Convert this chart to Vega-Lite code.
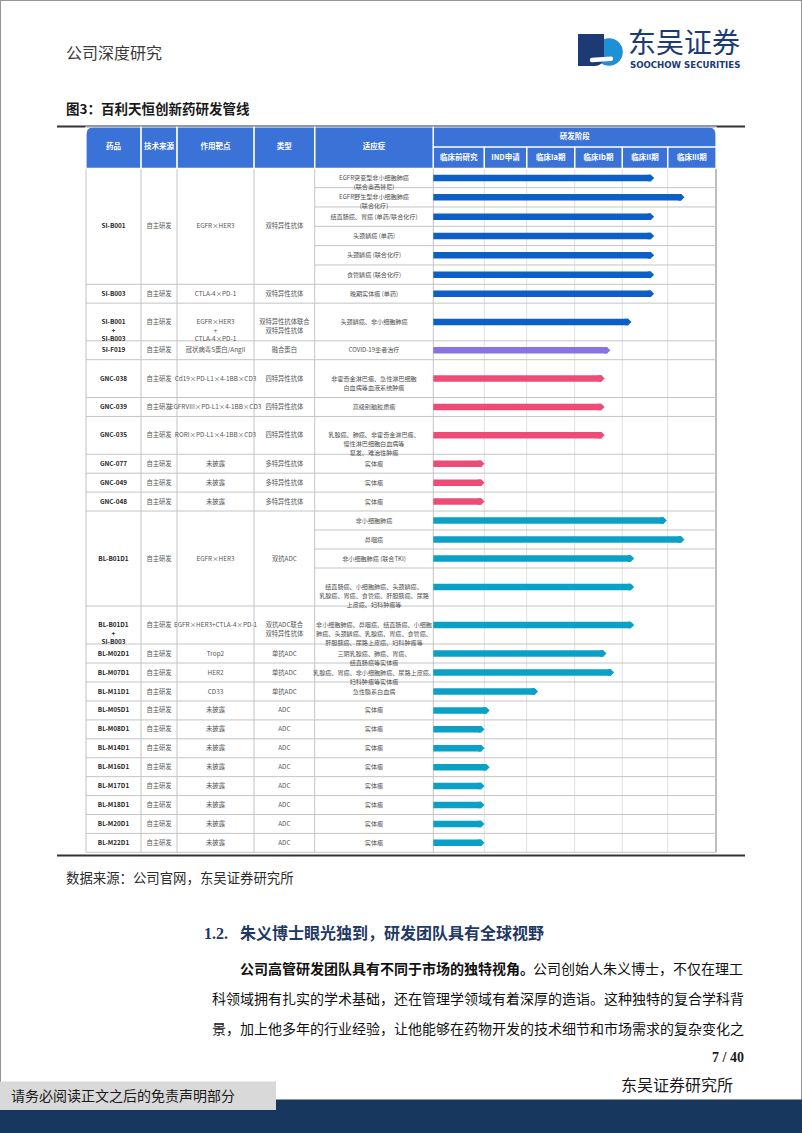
{
  "$schema": "https://vega.github.io/schema/vega-lite/v6.json",
  "width": 802,
  "height": 1133,
  "autosize": {"type": "fit", "contains": "padding"},
  "padding": 0,
  "background": "white",
  "config": {"view": {"stroke": "#959595", "strokeWidth": 2}, "font": "Noto Sans CJK SC", "bar": {"continuousBandSize": 6.5}},
  "datasets": {
    "cols": [
      {"col": "name", "cx": -4.5},
      {"col": "src", "cx": -3.5},
      {"col": "target", "cx": -2.5},
      {"col": "type", "cx": -1.5},
      {"col": "ind", "cx": -0.5}
    ],
    "hdr": [
      {"label": "药品", "c0": -5, "c1": -4, "r0": -2, "r1": 0},
      {"label": "技术来源", "c0": -4, "c1": -3, "r0": -2, "r1": 0},
      {"label": "作用靶点", "c0": -3, "c1": -2, "r0": -2, "r1": 0},
      {"label": "类型", "c0": -2, "c1": -1, "r0": -2, "r1": 0},
      {"label": "适应症", "c0": -1, "c1": 0, "r0": -2, "r1": 0},
      {"label": "研发阶段", "c0": 0, "c1": 6, "r0": -2, "r1": -1},
      {"label": "临床前研究", "c0": 0, "c1": 1, "r0": -1, "r1": 0},
      {"label": "IND申请", "c0": 1, "c1": 2, "r0": -1, "r1": 0},
      {"label": "临床Ia期", "c0": 2, "c1": 3, "r0": -1, "r1": 0},
      {"label": "临床Ib期", "c0": 3, "c1": 4, "r0": -1, "r1": 0},
      {"label": "临床II期", "c0": 4, "c1": 5, "r0": -1, "r1": 0},
      {"label": "临床III期", "c0": 5, "c1": 6, "r0": -1, "r1": 0}
    ],
    "drugs": [
      {"name": "SI-B001", "src": "自主研发", "target": "EGFR×HER3", "type": "双特异性抗体", "r0": 0, "r1": 6},
      {"name": "SI-B003", "src": "自主研发", "target": "CTLA-4×PD-1", "type": "双特异性抗体", "r0": 6, "r1": 7},
      {"name": "SI-B001\n+\nSI-B003", "src": "自主研发", "target": "EGFR×HER3\n+\nCTLA-4×PD-1", "type": "双特异性抗体联合\n双特异性抗体", "r0": 7, "r1": 9},
      {"name": "SI-F019", "src": "自主研发", "target": "冠状病毒S蛋白/AngII", "type": "融合蛋白", "r0": 9, "r1": 10},
      {"name": "GNC-038", "src": "自主研发", "target": "Cd19×PD-L1×4-1BB×CD3", "type": "四特异性抗体", "r0": 10, "r1": 12},
      {"name": "GNC-039", "src": "自主研发", "target": "EGFRVIII×PD-L1×4-1BB×CD3", "type": "四特异性抗体", "r0": 12, "r1": 13},
      {"name": "GNC-035", "src": "自主研发", "target": "RORI×PD-L1×4-1BB×CD3", "type": "四特异性抗体", "r0": 13, "r1": 15},
      {"name": "GNC-077", "src": "自主研发", "target": "未披露", "type": "多特异性抗体", "r0": 15, "r1": 16},
      {"name": "GNC-049", "src": "自主研发", "target": "未披露", "type": "多特异性抗体", "r0": 16, "r1": 17},
      {"name": "GNC-048", "src": "自主研发", "target": "未披露", "type": "多特异性抗体", "r0": 17, "r1": 18},
      {"name": "BL-B01D1", "src": "自主研发", "target": "EGFR×HER3", "type": "双抗ADC", "r0": 18, "r1": 23},
      {"name": "BL-B01D1\n+\nSI-B003", "src": "自主研发", "target": "EGFR×HER3+CTLA-4×PD-1", "type": "双抗ADC联合\n双特异性抗体", "r0": 23, "r1": 25},
      {"name": "BL-M02D1", "src": "自主研发", "target": "Trop2", "type": "单抗ADC", "r0": 25, "r1": 26},
      {"name": "BL-M07D1", "src": "自主研发", "target": "HER2", "type": "单抗ADC", "r0": 26, "r1": 27},
      {"name": "BL-M11D1", "src": "自主研发", "target": "CD33", "type": "单抗ADC", "r0": 27, "r1": 28},
      {"name": "BL-M05D1", "src": "自主研发", "target": "未披露", "type": "ADC", "r0": 28, "r1": 29},
      {"name": "BL-M08D1", "src": "自主研发", "target": "未披露", "type": "ADC", "r0": 29, "r1": 30},
      {"name": "BL-M14D1", "src": "自主研发", "target": "未披露", "type": "ADC", "r0": 30, "r1": 31},
      {"name": "BL-M16D1", "src": "自主研发", "target": "未披露", "type": "ADC", "r0": 31, "r1": 32},
      {"name": "BL-M17D1", "src": "自主研发", "target": "未披露", "type": "ADC", "r0": 32, "r1": 33},
      {"name": "BL-M18D1", "src": "自主研发", "target": "未披露", "type": "ADC", "r0": 33, "r1": 34},
      {"name": "BL-M20D1", "src": "自主研发", "target": "未披露", "type": "ADC", "r0": 34, "r1": 35},
      {"name": "BL-M22D1", "src": "自主研发", "target": "未披露", "type": "ADC", "r0": 35, "r1": 36}
    ],
    "ind": [
      {"drug": "SI-B001", "ind": "EGFR突变型非小细胞肺癌\n(联合奥西替尼)", "r0": 0, "r1": 1, "prog": 4.63, "grp": "SI"},
      {"drug": "SI-B001", "ind": "EGFR野生型非小细胞肺癌\n(联合化疗)", "r0": 1, "r1": 2, "prog": 5.28, "grp": "SI"},
      {"drug": "SI-B001", "ind": "结直肠癌、胃癌 (单药/联合化疗)", "r0": 2, "r1": 3, "prog": 4.63, "grp": "SI"},
      {"drug": "SI-B001", "ind": "头颈鳞癌 (单药)", "r0": 3, "r1": 4, "prog": 4.63, "grp": "SI"},
      {"drug": "SI-B001", "ind": "头颈鳞癌 (联合化疗)", "r0": 4, "r1": 5, "prog": 4.63, "grp": "SI"},
      {"drug": "SI-B001", "ind": "食管鳞癌 (联合化疗)", "r0": 5, "r1": 6, "prog": 4.63, "grp": "SI"},
      {"drug": "SI-B003", "ind": "晚期实体瘤 (单药)", "r0": 6, "r1": 7, "prog": 4.63, "grp": "SI"},
      {"drug": "SI-B001+SI-B003", "ind": "头颈鳞癌、非小细胞肺癌", "r0": 7, "r1": 9, "prog": 4.13, "grp": "SI"},
      {"drug": "SI-F019", "ind": "COVID-19患者治疗", "r0": 9, "r1": 10, "prog": 3.68, "grp": "SF"},
      {"drug": "GNC-038", "ind": "非霍奇金淋巴瘤、急性淋巴细胞\n白血病等血液系统肿瘤", "r0": 10, "r1": 12, "prog": 3.56, "grp": "GNC"},
      {"drug": "GNC-039", "ind": "高级别脑胶质瘤", "r0": 12, "r1": 13, "prog": 3.56, "grp": "GNC"},
      {"drug": "GNC-035", "ind": "乳腺癌、肺癌、非霍奇金淋巴瘤、\n慢性淋巴细胞白血病等\n复发、难治性肿瘤", "r0": 13, "r1": 15, "prog": 3.56, "grp": "GNC"},
      {"drug": "GNC-077", "ind": "实体瘤", "r0": 15, "r1": 16, "prog": 0.94, "grp": "GNC"},
      {"drug": "GNC-049", "ind": "实体瘤", "r0": 16, "r1": 17, "prog": 0.94, "grp": "GNC"},
      {"drug": "GNC-048", "ind": "实体瘤", "r0": 17, "r1": 18, "prog": 0.94, "grp": "GNC"},
      {"drug": "BL-B01D1", "ind": "非小细胞肺癌", "r0": 18, "r1": 19, "prog": 4.91, "grp": "BL"},
      {"drug": "BL-B01D1", "ind": "鼻咽癌", "r0": 19, "r1": 20, "prog": 5.28, "grp": "BL"},
      {"drug": "BL-B01D1", "ind": "非小细胞肺癌 (联合TKI)", "r0": 20, "r1": 21, "prog": 4.19, "grp": "BL"},
      {"drug": "BL-B01D1", "ind": "结直肠癌、小细胞肺癌、头颈鳞癌、\n乳腺癌、胃癌、食管癌、肝胆胰癌、尿路\n上皮癌、妇科肿瘤等", "r0": 21, "r1": 23, "prog": 4.19, "grp": "BL"},
      {"drug": "BL-B01D1+SI-B003", "ind": "非小细胞肺癌、鼻咽癌、结直肠癌、小细胞\n肺癌、头颈鳞癌、乳腺癌、胃癌、食管癌、\n肝胆胰癌、尿路上皮癌、妇科肿瘤等", "r0": 23, "r1": 25, "prog": 4.19, "grp": "BL"},
      {"drug": "BL-M02D1", "ind": "三阴乳腺癌、肺癌、胃癌、\n结直肠癌等实体瘤", "r0": 25, "r1": 26, "prog": 3.6, "grp": "BL"},
      {"drug": "BL-M07D1", "ind": "乳腺癌、胃癌、非小细胞肺癌、尿路上皮癌、\n妇科肿瘤等实体瘤", "r0": 26, "r1": 27, "prog": 3.76, "grp": "BL"},
      {"drug": "BL-M11D1", "ind": "急性髓系白血病", "r0": 27, "r1": 28, "prog": 2.17, "grp": "BL"},
      {"drug": "BL-M05D1", "ind": "实体瘤", "r0": 28, "r1": 29, "prog": 1.05, "grp": "BL"},
      {"drug": "BL-M08D1", "ind": "实体瘤", "r0": 29, "r1": 30, "prog": 0.94, "grp": "BL"},
      {"drug": "BL-M14D1", "ind": "实体瘤", "r0": 30, "r1": 31, "prog": 0.94, "grp": "BL"},
      {"drug": "BL-M16D1", "ind": "实体瘤", "r0": 31, "r1": 32, "prog": 1.05, "grp": "BL"},
      {"drug": "BL-M17D1", "ind": "实体瘤", "r0": 32, "r1": 33, "prog": 0.94, "grp": "BL"},
      {"drug": "BL-M18D1", "ind": "实体瘤", "r0": 33, "r1": 34, "prog": 0.94, "grp": "BL"},
      {"drug": "BL-M20D1", "ind": "实体瘤", "r0": 34, "r1": 35, "prog": 0.94, "grp": "BL"},
      {"drug": "BL-M22D1", "ind": "实体瘤", "r0": 35, "r1": 36, "prog": 0.94, "grp": "BL"}
    ]
  },
  "layer": [
    {
      "data": {"values": [{"edge": "top", "c0": -6, "c1": 7, "r": -3}, {"edge": "bottom", "c0": -6, "c1": 7, "r": 37}]},
      "mark": {"type": "rule", "color": "#333333", "strokeWidth": 2},
      "encoding": {
        "x": {"field": "c0", "type": "quantitative", "axis": null, "scale": {"type": "linear", "zero": true, "nice": false, "domain": [-6,-5,-4,-3,-2,-1,0,1,2,3,4,5,6,7,101,102,103,104,105,106,107,108,109,110,111,112,113,114,115,116,117,118,119,120,121,122,123], "range": [57,86,141,177,254,314.7,433.3,484.3,526.7,574.7,622.3,667.7,716,745,66,628,630,66,66,204,240,240,743,212,212,744,733,11,0,802,0,276,578,604,609,592,611]}},
        "x2": {"field": "c1"},
        "y": {"field": "r", "type": "quantitative", "axis": null, "scale": {"type": "linear", "zero": false, "nice": false, "domain": [-3,-2,-1,0,6,10,18,28,36,37,101,102,103,104,105,106,107,108,109,110,111,112,113,114,115,116,117,118,119,120,121,122,123], "range": [121,127,147,168.3,284.3,359.7,511,701,852.3,855.5,53.5,44.5,64.5,110,879,934,934,970,970,1000,1030,1057.5,1086,1096.5,1099.5,1133,1081.5,1110,34,66,52,60,42]}}
      }
    },
    {
      "data": {"values": [{"part": "表头", "c0": -5, "c1": 6, "r0": -2, "r1": 0}]},
      "mark": {"type": "rect", "color": "#3b72d8", "cornerRadiusTopLeft": 8, "cornerRadiusTopRight": 8},
      "encoding": {
        "x": {"field": "c0", "type": "quantitative", "axis": null, "scale": {"type": "linear", "zero": true, "nice": false, "domain": [-6,-5,-4,-3,-2,-1,0,1,2,3,4,5,6,7,101,102,103,104,105,106,107,108,109,110,111,112,113,114,115,116,117,118,119,120,121,122,123], "range": [57,86,141,177,254,314.7,433.3,484.3,526.7,574.7,622.3,667.7,716,745,66,628,630,66,66,204,240,240,743,212,212,744,733,11,0,802,0,276,578,604,609,592,611]}},
        "x2": {"field": "c1"},
        "y": {"field": "r0", "type": "quantitative", "axis": null, "scale": {"type": "linear", "zero": false, "nice": false, "domain": [-3,-2,-1,0,6,10,18,28,36,37,101,102,103,104,105,106,107,108,109,110,111,112,113,114,115,116,117,118,119,120,121,122,123], "range": [121,127,147,168.3,284.3,359.7,511,701,852.3,855.5,53.5,44.5,64.5,110,879,934,934,970,970,1000,1030,1057.5,1086,1096.5,1099.5,1133,1081.5,1110,34,66,52,60,42]}},
        "y2": {"field": "r1"}
      }
    },
    {
      "data": {"values": [{"c": -5, "r0": 0, "r1": 36}, {"c": -4, "r0": 0, "r1": 36}, {"c": -3, "r0": 0, "r1": 36}, {"c": -2, "r0": 0, "r1": 36}, {"c": -1, "r0": 0, "r1": 36}, {"c": 0, "r0": 0, "r1": 36}]},
      "mark": {"type": "rule", "color": "#c4c4c4", "strokeWidth": 1},
      "encoding": {
        "x": {"field": "c", "type": "quantitative", "axis": null, "scale": {"type": "linear", "zero": true, "nice": false, "domain": [-6,-5,-4,-3,-2,-1,0,1,2,3,4,5,6,7,101,102,103,104,105,106,107,108,109,110,111,112,113,114,115,116,117,118,119,120,121,122,123], "range": [57,86,141,177,254,314.7,433.3,484.3,526.7,574.7,622.3,667.7,716,745,66,628,630,66,66,204,240,240,743,212,212,744,733,11,0,802,0,276,578,604,609,592,611]}},
        "y": {"field": "r0", "type": "quantitative", "axis": null, "scale": {"type": "linear", "zero": false, "nice": false, "domain": [-3,-2,-1,0,6,10,18,28,36,37,101,102,103,104,105,106,107,108,109,110,111,112,113,114,115,116,117,118,119,120,121,122,123], "range": [121,127,147,168.3,284.3,359.7,511,701,852.3,855.5,53.5,44.5,64.5,110,879,934,934,970,970,1000,1030,1057.5,1086,1096.5,1099.5,1133,1081.5,1110,34,66,52,60,42]}},
        "y2": {"field": "r1"}
      }
    },
    {
      "data": {"values": [{"c": 1, "r0": 0, "r1": 36}, {"c": 2, "r0": 0, "r1": 36}, {"c": 3, "r0": 0, "r1": 36}, {"c": 4, "r0": 0, "r1": 36}, {"c": 5, "r0": 0, "r1": 36}]},
      "mark": {"type": "rule", "color": "#e0e0e0", "strokeWidth": 1},
      "encoding": {
        "x": {"field": "c", "type": "quantitative", "axis": null, "scale": {"type": "linear", "zero": true, "nice": false, "domain": [-6,-5,-4,-3,-2,-1,0,1,2,3,4,5,6,7,101,102,103,104,105,106,107,108,109,110,111,112,113,114,115,116,117,118,119,120,121,122,123], "range": [57,86,141,177,254,314.7,433.3,484.3,526.7,574.7,622.3,667.7,716,745,66,628,630,66,66,204,240,240,743,212,212,744,733,11,0,802,0,276,578,604,609,592,611]}},
        "y": {"field": "r0", "type": "quantitative", "axis": null, "scale": {"type": "linear", "zero": false, "nice": false, "domain": [-3,-2,-1,0,6,10,18,28,36,37,101,102,103,104,105,106,107,108,109,110,111,112,113,114,115,116,117,118,119,120,121,122,123], "range": [121,127,147,168.3,284.3,359.7,511,701,852.3,855.5,53.5,44.5,64.5,110,879,934,934,970,970,1000,1030,1057.5,1086,1096.5,1099.5,1133,1081.5,1110,34,66,52,60,42]}},
        "y2": {"field": "r1"}
      }
    },
    {
      "data": {"values": [{"c": 6, "r0": 0, "r1": 36}]},
      "mark": {"type": "rule", "color": "#a9a9a9", "strokeWidth": 1.5},
      "encoding": {
        "x": {"field": "c", "type": "quantitative", "axis": null, "scale": {"type": "linear", "zero": true, "nice": false, "domain": [-6,-5,-4,-3,-2,-1,0,1,2,3,4,5,6,7,101,102,103,104,105,106,107,108,109,110,111,112,113,114,115,116,117,118,119,120,121,122,123], "range": [57,86,141,177,254,314.7,433.3,484.3,526.7,574.7,622.3,667.7,716,745,66,628,630,66,66,204,240,240,743,212,212,744,733,11,0,802,0,276,578,604,609,592,611]}},
        "y": {"field": "r0", "type": "quantitative", "axis": null, "scale": {"type": "linear", "zero": false, "nice": false, "domain": [-3,-2,-1,0,6,10,18,28,36,37,101,102,103,104,105,106,107,108,109,110,111,112,113,114,115,116,117,118,119,120,121,122,123], "range": [121,127,147,168.3,284.3,359.7,511,701,852.3,855.5,53.5,44.5,64.5,110,879,934,934,970,970,1000,1030,1057.5,1086,1096.5,1099.5,1133,1081.5,1110,34,66,52,60,42]}},
        "y2": {"field": "r1"}
      }
    },
    {
      "data": {"values": [
        {"c0": -1, "c1": 6, "r": 1}, {"c0": -1, "c1": 6, "r": 2}, {"c0": -1, "c1": 6, "r": 3}, {"c0": -1, "c1": 6, "r": 4}, {"c0": -1, "c1": 6, "r": 5},
        {"c0": -1, "c1": 6, "r": 19}, {"c0": -1, "c1": 6, "r": 20}, {"c0": -1, "c1": 6, "r": 21},
        {"c0": -5, "c1": 6, "r": 6}, {"c0": -5, "c1": 6, "r": 7}, {"c0": -5, "c1": 6, "r": 9}, {"c0": -5, "c1": 6, "r": 10}, {"c0": -5, "c1": 6, "r": 12},
        {"c0": -5, "c1": 6, "r": 13}, {"c0": -5, "c1": 6, "r": 15}, {"c0": -5, "c1": 6, "r": 16}, {"c0": -5, "c1": 6, "r": 17}, {"c0": -5, "c1": 6, "r": 18},
        {"c0": -5, "c1": 6, "r": 23}, {"c0": -5, "c1": 6, "r": 25}, {"c0": -5, "c1": 6, "r": 26}, {"c0": -5, "c1": 6, "r": 27}, {"c0": -5, "c1": 6, "r": 28},
        {"c0": -5, "c1": 6, "r": 29}, {"c0": -5, "c1": 6, "r": 30}, {"c0": -5, "c1": 6, "r": 31}, {"c0": -5, "c1": 6, "r": 32}, {"c0": -5, "c1": 6, "r": 33},
        {"c0": -5, "c1": 6, "r": 34}, {"c0": -5, "c1": 6, "r": 35}, {"c0": -5, "c1": 6, "r": 36}
      ]},
      "mark": {"type": "rule", "color": "#c4c4c4", "strokeWidth": 1},
      "encoding": {
        "x": {"field": "c0", "type": "quantitative", "axis": null, "scale": {"type": "linear", "zero": true, "nice": false, "domain": [-6,-5,-4,-3,-2,-1,0,1,2,3,4,5,6,7,101,102,103,104,105,106,107,108,109,110,111,112,113,114,115,116,117,118,119,120,121,122,123], "range": [57,86,141,177,254,314.7,433.3,484.3,526.7,574.7,622.3,667.7,716,745,66,628,630,66,66,204,240,240,743,212,212,744,733,11,0,802,0,276,578,604,609,592,611]}},
        "x2": {"field": "c1"},
        "y": {"field": "r", "type": "quantitative", "axis": null, "scale": {"type": "linear", "zero": false, "nice": false, "domain": [-3,-2,-1,0,6,10,18,28,36,37,101,102,103,104,105,106,107,108,109,110,111,112,113,114,115,116,117,118,119,120,121,122,123], "range": [121,127,147,168.3,284.3,359.7,511,701,852.3,855.5,53.5,44.5,64.5,110,879,934,934,970,970,1000,1030,1057.5,1086,1096.5,1099.5,1133,1081.5,1110,34,66,52,60,42]}}
      }
    },
    {
      "data": {"name": "hdr"},
      "mark": {"type": "rect", "fillOpacity": 0, "stroke": "#ffffff", "strokeWidth": 1.2},
      "encoding": {
        "x": {"field": "c0", "type": "quantitative", "axis": null, "scale": {"type": "linear", "zero": true, "nice": false, "domain": [-6,-5,-4,-3,-2,-1,0,1,2,3,4,5,6,7,101,102,103,104,105,106,107,108,109,110,111,112,113,114,115,116,117,118,119,120,121,122,123], "range": [57,86,141,177,254,314.7,433.3,484.3,526.7,574.7,622.3,667.7,716,745,66,628,630,66,66,204,240,240,743,212,212,744,733,11,0,802,0,276,578,604,609,592,611]}},
        "x2": {"field": "c1"},
        "y": {"field": "r0", "type": "quantitative", "axis": null, "scale": {"type": "linear", "zero": false, "nice": false, "domain": [-3,-2,-1,0,6,10,18,28,36,37,101,102,103,104,105,106,107,108,109,110,111,112,113,114,115,116,117,118,119,120,121,122,123], "range": [121,127,147,168.3,284.3,359.7,511,701,852.3,855.5,53.5,44.5,64.5,110,879,934,934,970,970,1000,1030,1057.5,1086,1096.5,1099.5,1133,1081.5,1110,34,66,52,60,42]}},
        "y2": {"field": "r1"}
      }
    },
    {
      "data": {"name": "hdr"},
      "transform": [
        {"fold": ["c0", "c1"], "as": ["ck", "cv"]},
        {"aggregate": [{"op": "mean", "field": "cv", "as": "xm"}], "groupby": ["label", "r0", "r1"]},
        {"fold": ["r0", "r1"], "as": ["rk", "rv"]},
        {"aggregate": [{"op": "mean", "field": "rv", "as": "ym"}], "groupby": ["label", "xm"]}
      ],
      "mark": {"type": "text", "color": "#ffffff", "fontSize": 7.5, "fontWeight": "bold", "baseline": "middle", "align": "center"},
      "encoding": {
        "x": {"field": "xm", "type": "quantitative", "axis": null, "scale": {"type": "linear", "zero": true, "nice": false, "domain": [-6,-5,-4,-3,-2,-1,0,1,2,3,4,5,6,7,101,102,103,104,105,106,107,108,109,110,111,112,113,114,115,116,117,118,119,120,121,122,123], "range": [57,86,141,177,254,314.7,433.3,484.3,526.7,574.7,622.3,667.7,716,745,66,628,630,66,66,204,240,240,743,212,212,744,733,11,0,802,0,276,578,604,609,592,611]}},
        "y": {"field": "ym", "type": "quantitative", "axis": null, "scale": {"type": "linear", "zero": false, "nice": false, "domain": [-3,-2,-1,0,6,10,18,28,36,37,101,102,103,104,105,106,107,108,109,110,111,112,113,114,115,116,117,118,119,120,121,122,123], "range": [121,127,147,168.3,284.3,359.7,511,701,852.3,855.5,53.5,44.5,64.5,110,879,934,934,970,970,1000,1030,1057.5,1086,1096.5,1099.5,1133,1081.5,1110,34,66,52,60,42]}},
        "text": {"field": "label", "type": "nominal"}
      }
    },
    {
      "data": {"name": "drugs"},
      "transform": [
        {"fold": ["r0", "r1"], "as": ["rk", "rv"]},
        {"aggregate": [{"op": "mean", "field": "rv", "as": "rm"}], "groupby": ["name", "src", "target", "type"]},
        {"fold": ["name", "src", "target", "type"], "as": ["col", "val"]},
        {"lookup": "col", "from": {"data": {"name": "cols"}, "key": "col", "fields": ["cx"]}}
      ],
      "encoding": {
        "x": {"field": "cx", "type": "quantitative", "axis": null, "scale": {"type": "linear", "zero": true, "nice": false, "domain": [-6,-5,-4,-3,-2,-1,0,1,2,3,4,5,6,7,101,102,103,104,105,106,107,108,109,110,111,112,113,114,115,116,117,118,119,120,121,122,123], "range": [57,86,141,177,254,314.7,433.3,484.3,526.7,574.7,622.3,667.7,716,745,66,628,630,66,66,204,240,240,743,212,212,744,733,11,0,802,0,276,578,604,609,592,611]}},
        "y": {"field": "rm", "type": "quantitative", "axis": null, "scale": {"type": "linear", "zero": false, "nice": false, "domain": [-3,-2,-1,0,6,10,18,28,36,37,101,102,103,104,105,106,107,108,109,110,111,112,113,114,115,116,117,118,119,120,121,122,123], "range": [121,127,147,168.3,284.3,359.7,511,701,852.3,855.5,53.5,44.5,64.5,110,879,934,934,970,970,1000,1030,1057.5,1086,1096.5,1099.5,1133,1081.5,1110,34,66,52,60,42]}},
        "text": {"field": "val", "type": "nominal"}
      },
      "layer": [
        {
          "transform": [{"filter": "datum.col === 'name'"}],
          "mark": {"type": "text", "color": "#262626", "fontSize": 6.4, "fontWeight": "bold", "baseline": "middle", "lineBreak": "\n", "lineHeight": 8.6}
        },
        {
          "transform": [{"filter": "datum.col === 'src'"}],
          "mark": {"type": "text", "color": "#555555", "fontSize": 6.3, "baseline": "middle", "lineBreak": "\n", "lineHeight": 8.6}
        },
        {
          "transform": [{"filter": "datum.col === 'target'"}],
          "mark": {"type": "text", "color": "#555555", "fontSize": 6.4, "baseline": "middle", "lineBreak": "\n", "lineHeight": 8.6}
        },
        {
          "transform": [{"filter": "datum.col === 'type'"}],
          "mark": {"type": "text", "color": "#555555", "fontSize": 6.3, "baseline": "middle", "lineBreak": "\n", "lineHeight": 9}
        }
      ]
    },
    {
      "data": {"name": "ind"},
      "transform": [
        {"fold": ["r0", "r1"], "as": ["rk", "rv"]},
        {"aggregate": [{"op": "mean", "field": "rv", "as": "rm"}], "groupby": ["drug", "ind", "prog", "grp"]},
        {"fold": ["ind"], "as": ["col", "val"]},
        {"lookup": "col", "from": {"data": {"name": "cols"}, "key": "col", "fields": ["cx"]}}
      ],
      "encoding": {
        "y": {"field": "rm", "type": "quantitative", "axis": null, "scale": {"type": "linear", "zero": false, "nice": false, "domain": [-3,-2,-1,0,6,10,18,28,36,37,101,102,103,104,105,106,107,108,109,110,111,112,113,114,115,116,117,118,119,120,121,122,123], "range": [121,127,147,168.3,284.3,359.7,511,701,852.3,855.5,53.5,44.5,64.5,110,879,934,934,970,970,1000,1030,1057.5,1086,1096.5,1099.5,1133,1081.5,1110,34,66,52,60,42]}}
      },
      "layer": [
        {
          "mark": {"type": "text", "color": "#4f4f4f", "fontSize": 6.1, "baseline": "middle", "lineBreak": "\n", "lineHeight": 9},
          "encoding": {
            "x": {"field": "cx", "type": "quantitative", "axis": null, "scale": {"type": "linear", "zero": true, "nice": false, "domain": [-6,-5,-4,-3,-2,-1,0,1,2,3,4,5,6,7,101,102,103,104,105,106,107,108,109,110,111,112,113,114,115,116,117,118,119,120,121,122,123], "range": [57,86,141,177,254,314.7,433.3,484.3,526.7,574.7,622.3,667.7,716,745,66,628,630,66,66,204,240,240,743,212,212,744,733,11,0,802,0,276,578,604,609,592,611]}},
            "text": {"field": "val", "type": "nominal"}
          }
        },
        {
          "mark": {"type": "bar", "orient": "horizontal", "size": 6.5},
          "encoding": {
            "x": {"field": "prog", "type": "quantitative", "stack": null, "axis": null, "scale": {"type": "linear", "zero": true, "nice": false, "domain": [-6,-5,-4,-3,-2,-1,0,1,2,3,4,5,6,7,101,102,103,104,105,106,107,108,109,110,111,112,113,114,115,116,117,118,119,120,121,122,123], "range": [57,86,141,177,254,314.7,433.3,484.3,526.7,574.7,622.3,667.7,716,745,66,628,630,66,66,204,240,240,743,212,212,744,733,11,0,802,0,276,578,604,609,592,611]}},
            "color": {"field": "grp", "type": "nominal", "legend": null, "scale": {"domain": ["SI", "SF", "GNC", "BL"], "range": ["#0b5fc6", "#8a72e0", "#ee4c77", "#0ba0c6"]}}
          }
        },
        {
          "mark": {"type": "point", "shape": "M-1,-1L0,-1L1,0L0,1L-1,1Z", "filled": true, "size": 42.25, "opacity": 1, "strokeWidth": 0},
          "encoding": {
            "x": {"field": "prog", "type": "quantitative", "axis": null, "scale": {"type": "linear", "zero": true, "nice": false, "domain": [-6,-5,-4,-3,-2,-1,0,1,2,3,4,5,6,7,101,102,103,104,105,106,107,108,109,110,111,112,113,114,115,116,117,118,119,120,121,122,123], "range": [57,86,141,177,254,314.7,433.3,484.3,526.7,574.7,622.3,667.7,716,745,66,628,630,66,66,204,240,240,743,212,212,744,733,11,0,802,0,276,578,604,609,592,611]}},
            "color": {"field": "grp", "type": "nominal", "legend": null, "scale": {"domain": ["SI", "SF", "GNC", "BL"], "range": ["#0b5fc6", "#8a72e0", "#ee4c77", "#0ba0c6"]}}
          }
        }
      ]
    },
    {
      "encoding": {
        "x": {"field": "g", "type": "quantitative", "axis": null, "scale": {"type": "linear", "zero": true, "nice": false, "domain": [-6,-5,-4,-3,-2,-1,0,1,2,3,4,5,6,7,101,102,103,104,105,106,107,108,109,110,111,112,113,114,115,116,117,118,119,120,121,122,123], "range": [57,86,141,177,254,314.7,433.3,484.3,526.7,574.7,622.3,667.7,716,745,66,628,630,66,66,204,240,240,743,212,212,744,733,11,0,802,0,276,578,604,609,592,611]}},
        "y": {"field": "g", "type": "quantitative", "axis": null, "scale": {"type": "linear", "zero": false, "nice": false, "domain": [-3,-2,-1,0,6,10,18,28,36,37,101,102,103,104,105,106,107,108,109,110,111,112,113,114,115,116,117,118,119,120,121,122,123], "range": [121,127,147,168.3,284.3,359.7,511,701,852.3,855.5,53.5,44.5,64.5,110,879,934,934,970,970,1000,1030,1057.5,1086,1096.5,1099.5,1133,1081.5,1110,34,66,52,60,42]}}
      },
      "layer": [
        {
          "data": {"values": [{"block": "页脚底栏", "g": 115, "g2": 116}]},
          "mark": {"type": "rect", "color": "#17375e"},
          "encoding": {"x2": {"field": "g2"}, "y2": {"field": "g2"}}
        },
        {
          "data": {"values": [{"block": "声明底框", "g": 117, "g2": 118}]},
          "mark": {"type": "rect", "color": "#d9d9d9"},
          "encoding": {"x2": {"field": "g2"}, "y2": {"field": "g2"}}
        },
        {
          "data": {"values": [{"block": "标志浅蓝", "g": 121}]},
          "mark": {"type": "point", "shape": "circle", "filled": true, "size": 760, "opacity": 1, "color": "#1f8fd6"},
          "encoding": {}
        },
        {
          "data": {"values": [{"block": "标志深蓝", "g": 119, "g2": 120}]},
          "mark": {"type": "rect", "color": "#1c3b75", "cornerRadiusBottomRight": 9},
          "encoding": {"x2": {"field": "g2"}, "y2": {"field": "g2"}}
        },
        {
          "data": {"values": [{"block": "标志白线", "g": 122, "g2": 123}]},
          "mark": {"type": "rule", "color": "#ffffff", "strokeWidth": 4.5, "strokeCap": "round"},
          "encoding": {"x2": {"field": "g2"}, "y2": {"field": "g2"}}
        },
        {
          "data": {"values": [{"g": 101, "t": "公司深度研究"}]},
          "mark": {"type": "text", "align": "left", "baseline": "middle", "fontSize": 16, "color": "#3a3a3a"},
          "encoding": {"text": {"field": "t", "type": "nominal"}}
        },
        {
          "data": {"values": [{"g": 102, "t": "东吴证券"}]},
          "mark": {"type": "text", "align": "left", "baseline": "middle", "fontSize": 28, "color": "#1c3b75"},
          "encoding": {"text": {"field": "t", "type": "nominal"}}
        },
        {
          "data": {"values": [{"g": 103, "t": "SOOCHOW SECURITIES"}]},
          "mark": {"type": "text", "align": "left", "baseline": "middle", "fontSize": 8.6, "fontWeight": "bold", "font": "DejaVu Sans", "color": "#1c3b75"},
          "encoding": {"text": {"field": "t", "type": "nominal"}}
        },
        {
          "data": {"values": [{"g": 104, "t": "图3：百利天恒创新药研发管线"}]},
          "mark": {"type": "text", "align": "left", "baseline": "middle", "fontSize": 13.5, "fontWeight": "bold", "color": "#1a1a1a"},
          "encoding": {"text": {"field": "t", "type": "nominal"}}
        },
        {
          "data": {"values": [{"g": 105, "t": "数据来源：公司官网，东吴证券研究所"}]},
          "mark": {"type": "text", "align": "left", "baseline": "middle", "fontSize": 13.4, "color": "#2b2b2b"},
          "encoding": {"text": {"field": "t", "type": "nominal"}}
        },
        {
          "data": {"values": [{"g": 106, "t": "1.2."}]},
          "mark": {"type": "text", "align": "left", "baseline": "middle", "fontSize": 16, "fontWeight": "bold", "font": "Liberation Serif", "color": "#1f3864"},
          "encoding": {"text": {"field": "t", "type": "nominal"}}
        },
        {
          "data": {"values": [{"g": 107, "t": "朱义博士眼光独到，研发团队具有全球视野"}]},
          "mark": {"type": "text", "align": "left", "baseline": "middle", "fontSize": 16, "fontWeight": "bold", "color": "#1f3864"},
          "encoding": {"text": {"field": "t", "type": "nominal"}}
        },
        {
          "data": {"values": [{"g": 108, "t": "公司高管研发团队具有不同于市场的独特视角。"}]},
          "mark": {"type": "text", "align": "left", "baseline": "middle", "fontSize": 14, "fontWeight": "bold", "color": "#111111"},
          "encoding": {"text": {"field": "t", "type": "nominal"}}
        },
        {
          "data": {"values": [{"g": 109, "t": "公司创始人朱义博士，不仅在理工"}]},
          "mark": {"type": "text", "align": "right", "baseline": "middle", "fontSize": 14, "color": "#111111"},
          "encoding": {"text": {"field": "t", "type": "nominal"}}
        },
        {
          "data": {"values": [{"g": 110, "t": "科领域拥有扎实的学术基础，还在管理学领域有着深厚的造诣。这种独特的复合学科背"}, {"g": 111, "t": "景，加上他多年的行业经验，让他能够在药物开发的技术细节和市场需求的复杂变化之"}]},
          "mark": {"type": "text", "align": "left", "baseline": "middle", "fontSize": 14, "color": "#111111"},
          "encoding": {"text": {"field": "t", "type": "nominal"}}
        },
        {
          "data": {"values": [{"g": 112, "t": "7 / 40"}]},
          "mark": {"type": "text", "align": "right", "baseline": "middle", "fontSize": 14, "fontWeight": "bold", "font": "Liberation Serif", "color": "#1a1a1a"},
          "encoding": {"text": {"field": "t", "type": "nominal"}}
        },
        {
          "data": {"values": [{"g": 113, "t": "东吴证券研究所"}]},
          "mark": {"type": "text", "align": "right", "baseline": "middle", "fontSize": 16, "color": "#1a1a1a"},
          "encoding": {"text": {"field": "t", "type": "nominal"}}
        },
        {
          "data": {"values": [{"g": 114, "t": "请务必阅读正文之后的免责声明部分"}]},
          "mark": {"type": "text", "align": "left", "baseline": "middle", "fontSize": 14, "color": "#1a1a1a"},
          "encoding": {"text": {"field": "t", "type": "nominal"}}
        }
      ]
    }
  ]
}
